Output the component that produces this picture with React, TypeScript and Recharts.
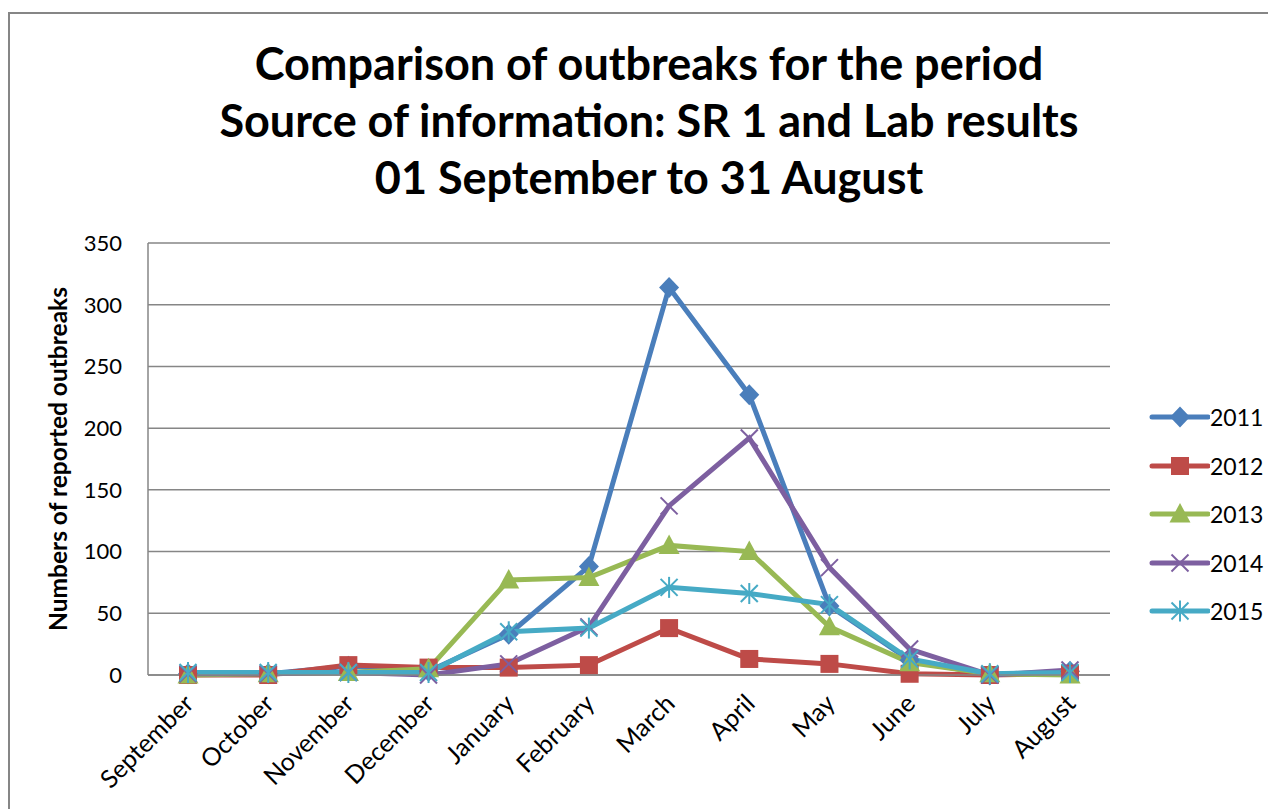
import React from "react";
import { LineChart, Line, XAxis, YAxis, CartesianGrid } from "recharts";

const months = [
  "September", "October", "November", "December", "January", "February",
  "March", "April", "May", "June", "July", "August",
];

const s2011 = [1, 1, 7, 3, 33, 88, 314, 227, 56, 12, 0, 3];
const s2012 = [0, 0, 8, 6, 6, 8, 38, 13, 9, 1, 0, 1];
const s2013 = [0, 1, 2, 5, 77, 79, 105, 100, 39, 10, 1, 0];
const s2014 = [1, 1, 2, 0, 9, 39, 137, 192, 87, 21, 0, 4];
const s2015 = [2, 2, 2, 2, 35, 38, 71, 66, 57, 13, 1, 2];

const seriesNames = ["2011", "2012", "2013", "2014", "2015"];
const seriesValues = [s2011, s2012, s2013, s2014, s2015];
const seriesColors = ["#4A7EBB", "#BE4B48", "#98B954", "#7D5FA0", "#46AAC5"];
const seriesMarkers = ["diamond", "square", "triangle", "cross", "star"];

const yTicks = [0, 50, 100, 150, 200, 250, 300, 350];

const titleLines = [
  "Comparison of outbreaks for the period",
  "Source of information: SR 1 and Lab results",
  "01 September to 31 August",
];
const yLabel = "Numbers of reported outbreaks";

const data = months.map((m, i) => {
  const row: Record<string, string | number> = { month: m };
  seriesNames.forEach((n, k) => {
    row[n] = seriesValues[k][i];
  });
  return row;
});

const FONT = "Lato, 'Liberation Sans', sans-serif";
const GRID = "#868686";

function Marker({ kind, cx, cy, color }: { kind: string; cx: number; cy: number; color: string }) {
  switch (kind) {
    case "diamond":
      return <path d={`M${cx} ${cy - 10.5}L${cx + 10} ${cy}L${cx} ${cy + 10.5}L${cx - 10} ${cy}Z`} fill={color} />;
    case "square":
      return <rect x={cx - 9} y={cy - 9} width={18} height={18} fill={color} />;
    case "triangle":
      return <path d={`M${cx} ${cy - 11}L${cx + 10.5} ${cy + 8.5}L${cx - 10.5} ${cy + 8.5}Z`} fill={color} />;
    case "cross":
      return (
        <g stroke={color} strokeWidth={2}>
          <line x1={cx - 8.5} y1={cy - 8.5} x2={cx + 8.5} y2={cy + 8.5} />
          <line x1={cx - 8.5} y1={cy + 8.5} x2={cx + 8.5} y2={cy - 8.5} />
        </g>
      );
    default:
      return (
        <g stroke={color} strokeWidth={2}>
          <line x1={cx - 8.5} y1={cy - 8.5} x2={cx + 8.5} y2={cy + 8.5} />
          <line x1={cx - 8.5} y1={cy + 8.5} x2={cx + 8.5} y2={cy - 8.5} />
          <line x1={cx} y1={cy - 10.5} x2={cx} y2={cy + 10.5} />
        </g>
      );
  }
}

const XTick = (props: any) => {
  const { x, y, payload } = props;
  const tx = x + 1;
  const ty = y + 16;
  return (
    <text
      x={tx}
      y={ty}
      transform={`rotate(-45 ${tx} ${ty})`}
      textAnchor="end"
      dy="0.35em"
      fontFamily={FONT}
      fontSize={25}
      fill="#000"
    >
      {payload.value}
    </text>
  );
};

const YLabel = (props: any) => {
  const { viewBox } = props;
  const x = viewBox.x - 30;
  const y = viewBox.y + viewBox.height / 2;
  return (
    <text
      x={x}
      y={y}
      transform={`rotate(-90 ${x} ${y})`}
      textAnchor="middle"
      dy="0.35em"
      fontFamily={FONT}
      fontWeight="bold"
      fontSize={24.5}
      fill="#000"
    >
      {yLabel}
    </text>
  );
};

export default function App() {
  return (
    <div style={{ position: "relative", width: 1268, height: 801, overflow: "hidden", fontFamily: FONT }}>
      <div
        style={{
          position: "absolute",
          left: 0,
          top: 4,
          width: 1300,
          height: 900,
          borderLeft: `2px solid ${GRID}`,
          borderTop: `2px solid ${GRID}`,
        }}
      />
      <div style={{ position: "absolute", left: 0, top: 27, width: 1282, textAlign: "center" }}>
        {titleLines.map((t) => (
          <div key={t} style={{ fontWeight: "bold", fontSize: 45, lineHeight: "57px", color: "#000" }}>
            {t}
          </div>
        ))}
      </div>
      <div style={{ position: "absolute", left: 0, top: 0 }}>
        <LineChart width={1268} height={801} data={data} margin={{ top: 235, right: 166, bottom: 34, left: 80 }}>
          <CartesianGrid vertical={false} stroke={GRID} strokeWidth={1.5} />
          <XAxis
            dataKey="month"
            interval={0}
            height={100}
            padding={{ left: 40, right: 40 }}
            tickLine={false}
            axisLine={{ stroke: GRID, strokeWidth: 1.5 }}
            tick={<XTick />}
          />
          <YAxis
            domain={[0, 350]}
            ticks={yTicks}
            interval={0}
            width={60}
            tickSize={7}
            tickMargin={19}
            tickLine={false}
            axisLine={{ stroke: GRID, strokeWidth: 1.5 }}
            tick={{ fill: "#000", fontSize: 22, fontFamily: FONT }}
            label={<YLabel />}
          />
          {seriesNames.map((n, k) => (
            <Line
              key={n}
              dataKey={n}
              type="linear"
              stroke={seriesColors[k]}
              strokeWidth={5}
              isAnimationActive={false}
              dot={(p: any) => (
                <Marker key={`${n}-${p.index}`} kind={seriesMarkers[k]} cx={p.cx} cy={p.cy} color={seriesColors[k]} />
              )}
              activeDot={false}
            />
          ))}
        </LineChart>
      </div>
      <div style={{ position: "absolute", left: 1138, top: 385 }}>
        {seriesNames.map((n, k) => (
          <div key={n} style={{ display: "flex", alignItems: "center", height: 48.5 }}>
            <svg width={64} height={30}>
              <line x1={6} y1={15} x2={62} y2={15} stroke={seriesColors[k]} strokeWidth={5} strokeLinecap="round" />
              <Marker kind={seriesMarkers[k]} cx={34} cy={15} color={seriesColors[k]} />
            </svg>
            <span style={{ fontSize: 23, color: "#000" }}>{n}</span>
          </div>
        ))}
      </div>
    </div>
  );
}
